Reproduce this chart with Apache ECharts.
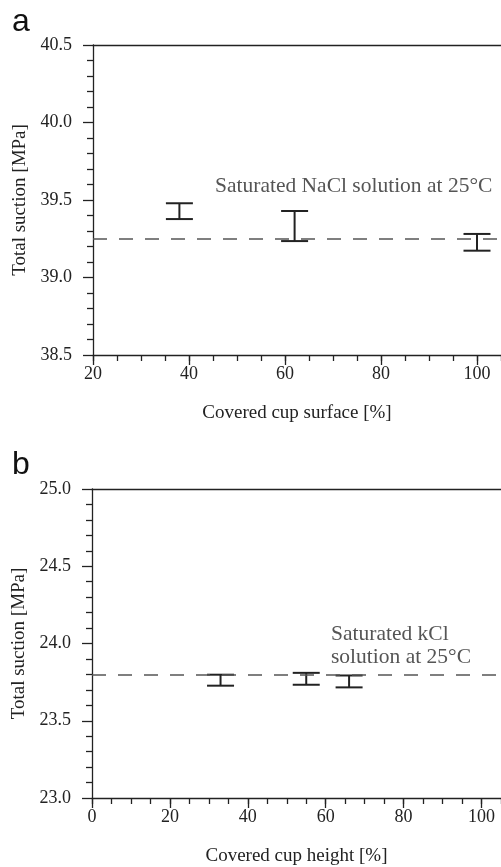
<!DOCTYPE html>
<html>
<head>
<meta charset="utf-8">
<script src="https://cdn.jsdelivr.net/npm/echarts@6/dist/echarts.min.js"></script>
<style>
html,body{margin:0;padding:0;background:#fff;}
#c{width:501px;height:867px;}
</style>
</head>
<body>
<div id="c"></div>
<script>
// Panel a: covered cup surface
const surfaceX = [38, 62, 100];
const surfaceLow = [39.377, 39.235, 39.173];
const surfaceHigh = [39.479, 39.429, 39.281];
const naclRef = 39.25;
const xTicksA = [20, 40, 60, 80, 100];
const yTicksA = [38.5, 39.0, 39.5, 40.0, 40.5];

// Panel b: covered cup height
const heightX = [33, 55, 66];
const heightLow = [23.727, 23.733, 23.716];
const heightHigh = [23.798, 23.810, 23.793];
const kclRef = 23.80;
const xTicksB = [0, 20, 40, 60, 80, 100];
const yTicksB = [23.0, 23.5, 24.0, 24.5, 25.0];

const SERIF = "'Liberation Serif','Times New Roman',serif";
const DARK = '#222';

function errData(xs, lo, hi) { return xs.map((x, i) => [x, lo[i], hi[i]]); }

function renderErr(params, api) {
  const x = api.value(0), lo = api.value(1), hi = api.value(2);
  const pHi = api.coord([x, hi]), pLo = api.coord([x, lo]);
  const hw = 13.5;
  const st = { stroke: DARK, lineWidth: 2 };
  return {
    type: 'group',
    children: [
      { type: 'line', shape: { x1: pHi[0], y1: pHi[1], x2: pLo[0], y2: pLo[1] }, style: st },
      { type: 'line', shape: { x1: pHi[0] - hw, y1: pHi[1], x2: pHi[0] + hw, y2: pHi[1] }, style: st },
      { type: 'line', shape: { x1: pLo[0] - hw, y1: pLo[1], x2: pLo[0] + hw, y2: pLo[1] }, style: st }
    ]
  };
}

function majorX(gi, min, max, name, ticks) {
  return {
    gridIndex: gi, type: 'value', min: min, max: max, interval: ticks[1] - ticks[0],
    position: 'bottom',
    name: name, nameLocation: 'middle', nameGap: 49,
    nameTextStyle: { fontFamily: SERIF, fontSize: 19, color: DARK },
    axisLine: { show: true, lineStyle: { color: DARK, width: 1.3 } },
    axisTick: { show: true, length: 10, lineStyle: { color: DARK, width: 1.3 } },
    axisLabel: { show: true, margin: 10, fontFamily: SERIF, fontSize: 18, color: DARK, showMaxLabel: false,
      formatter: v => String(v) },
    splitLine: { show: false }
  };
}
function minorX(gi, min, max) {
  return {
    gridIndex: gi, type: 'value', min: min, max: max, interval: 5, position: 'bottom',
    axisLine: { show: false },
    axisTick: { show: true, length: 6, lineStyle: { color: DARK, width: 1.3 } },
    axisLabel: { show: false }, splitLine: { show: false }
  };
}
function topX(gi, min, max) {
  return {
    gridIndex: gi, type: 'value', min: min, max: max, position: 'top',
    axisLine: { show: true, onZero: false, lineStyle: { color: DARK, width: 1.3 } },
    axisTick: { show: false }, axisLabel: { show: false }, splitLine: { show: false }
  };
}
function yAx(gi, ticks) {
  return {
    gridIndex: gi, type: 'value', min: ticks[0], max: ticks[ticks.length - 1], interval: ticks[1] - ticks[0],
    name: 'Total suction [MPa]', nameLocation: 'middle', nameGap: 63,
    nameTextStyle: { fontFamily: SERIF, fontSize: 19, color: DARK },
    axisLine: { show: true, lineStyle: { color: DARK, width: 1.3 } },
    axisTick: { show: true, length: 10, lineStyle: { color: DARK, width: 1.3 } },
    minorTick: { show: true, splitNumber: 5, length: 6, lineStyle: { color: DARK, width: 1.3 } },
    axisLabel: { margin: 21, fontFamily: SERIF, fontSize: 18, color: DARK, formatter: v => v.toFixed(1) },
    splitLine: { show: false }, minorSplitLine: { show: false }
  };
}

const chart = echarts.init(document.getElementById('c'), null, { renderer: 'canvas' });
chart.setOption({
  animation: false,
  backgroundColor: '#fff',
  grid: [
    { left: 93, top: 45, width: 412, height: 310 },
    { left: 92, top: 489, width: 413, height: 309 }
  ],
  xAxis: [
    majorX(0, xTicksA[0], 105, 'Covered cup surface [%]', xTicksA),
    minorX(0, xTicksA[0], 105),
    topX(0, xTicksA[0], 105),
    majorX(1, xTicksB[0], 105, 'Covered cup height [%]', xTicksB),
    minorX(1, xTicksB[0], 105),
    topX(1, xTicksB[0], 105)
  ],
  yAxis: [yAx(0, yTicksA), yAx(1, yTicksB)],
  series: [
    {
      type: 'custom', xAxisIndex: 0, yAxisIndex: 0, renderItem: renderErr,
      encode: { x: 0, y: [1, 2] }, data: errData(surfaceX, surfaceLow, surfaceHigh), clip: false,
      markLine: { silent: true, symbol: 'none', label: { show: false },
        lineStyle: { color: '#555', width: 1.5, type: [14, 12] }, data: [{ yAxis: naclRef }] }
    },
    {
      type: 'custom', xAxisIndex: 3, yAxisIndex: 1, renderItem: renderErr,
      encode: { x: 0, y: [1, 2] }, data: errData(heightX, heightLow, heightHigh), clip: false,
      markLine: { silent: true, symbol: 'none', label: { show: false },
        lineStyle: { color: '#555', width: 1.5, type: [14, 12] }, data: [{ yAxis: kclRef }] }
    }
  ],
  graphic: [
    { type: 'text', left: 12, top: 6, style: { text: 'a', font: "32px 'Liberation Sans', Arial, sans-serif", fill: '#111' } },
    { type: 'text', left: 12, top: 449, style: { text: 'b', font: "32px 'Liberation Sans', Arial, sans-serif", fill: '#111' } },
    { type: 'text', left: 215, top: 175, style: { text: 'Saturated NaCl solution at 25°C', font: "21.5px " + SERIF, fill: '#555' } },
    { type: 'text', left: 331, top: 623, style: { text: 'Saturated kCl\nsolution at 25°C', font: "21.5px " + SERIF, fill: '#555', lineHeight: 22.6 } }
  ]
});
</script>
</body>
</html>
